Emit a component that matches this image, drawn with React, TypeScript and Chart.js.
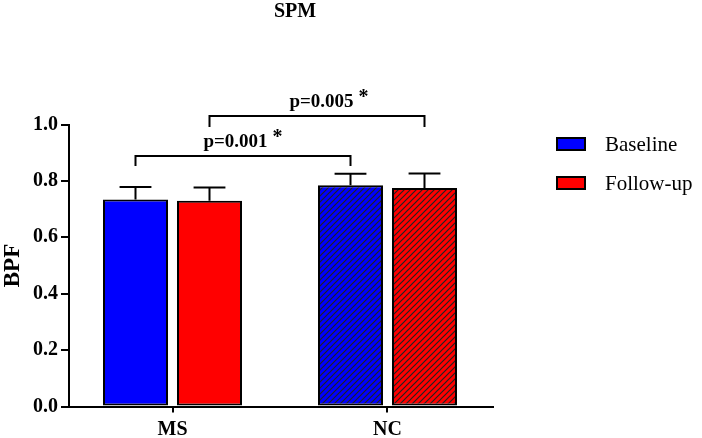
import React, { useEffect, useRef } from 'react';
import { Chart, registerables } from 'chart.js';

Chart.register(...registerables);

// ---------- data ----------
const categories = ['MS', 'NC'];
const seriesLabels = ['Baseline', 'Follow-up'];
const baselineValues = [0.734, 0.785];
const baselineErrors = [0.044, 0.04];
const followUpValues = [0.73, 0.775];
const followUpErrors = [0.047, 0.051];
const hatchedCategories = [false, true];
const yTickValues = [0, 0.2, 0.4, 0.6, 0.8, 1.0];
const chartTitle = 'SPM';
const yAxisTitle = 'BPF';
// significance brackets: both ends on the same series, from category 0 to category 1
const bracketLabels = ['p=0.001', 'p=0.005'];
const bracketSeries = [0, 1];
const bracketLevels = [0.888, 1.03];
const bracketDrops = [0.853, 0.991];

// ---------- styles ----------
const SERIES_COLORS = ['#0000FF', '#FF0000'];
const SERIF = '"Liberation Serif", "Times New Roman", serif';
const BRACKET_LABEL_SHIFT = [0, 12];

const allValues = [baselineValues, followUpValues];
const allErrors = [baselineErrors, followUpErrors];

function makeHatch(color: string): CanvasPattern | string {
  const c = document.createElement('canvas');
  const s = 6;
  c.width = s;
  c.height = s;
  const g = c.getContext('2d');
  if (!g) return color;
  g.fillStyle = color;
  g.fillRect(0, 0, s, s);
  g.strokeStyle = '#222';
  g.lineWidth = 1.2;
  g.beginPath();
  g.moveTo(-1, s + 1);
  g.lineTo(s + 1, -1);
  g.moveTo(-1, 1);
  g.lineTo(1, -1);
  g.moveTo(s - 1, s + 1);
  g.lineTo(s + 1, s - 1);
  g.stroke();
  return g.createPattern(c, 'repeat') || color;
}

const overlayPlugin = {
  id: 'overlay',
  afterDatasetsDraw(chart: any) {
    const ctx: CanvasRenderingContext2D = chart.ctx;
    const yScale = chart.scales.y;
    ctx.save();
    ctx.strokeStyle = '#000';
    ctx.lineWidth = 2;
    // error bars (upper half)
    allErrors.forEach((errs, di) => {
      const meta = chart.getDatasetMeta(di);
      meta.data.forEach((bar: any, i: number) => {
        const v = allValues[di][i];
        const base = yScale.getPixelForValue(v);
        const top = yScale.getPixelForValue(v + errs[i]);
        const half = bar.width * 0.245;
        ctx.beginPath();
        ctx.moveTo(bar.x, base);
        ctx.lineTo(bar.x, top);
        ctx.moveTo(bar.x - half, top);
        ctx.lineTo(bar.x + half, top);
        ctx.stroke();
      });
    });
    ctx.restore();
  },
  afterDraw(chart: any) {
    const ctx: CanvasRenderingContext2D = chart.ctx;
    const yScale = chart.scales.y;
    ctx.save();
    ctx.strokeStyle = '#000';
    ctx.fillStyle = '#000';
    ctx.lineWidth = 2;
    ctx.lineJoin = 'miter';
    // brackets
    bracketLabels.forEach((label, k) => {
      const meta = chart.getDatasetMeta(bracketSeries[k]);
      const x1 = meta.data[0].x;
      const x2 = meta.data[1].x;
      const yl = yScale.getPixelForValue(bracketLevels[k]);
      const yd = yScale.getPixelForValue(bracketDrops[k]);
      ctx.beginPath();
      ctx.moveTo(x1, yd);
      ctx.lineTo(x1, yl);
      ctx.lineTo(x2, yl);
      ctx.lineTo(x2, yd);
      ctx.stroke();
      ctx.font = `bold 19px ${SERIF}`;
      const wText = ctx.measureText(label).width;
      ctx.font = `bold 20px ${SERIF}`;
      const wStar = ctx.measureText('*').width;
      const gap = 5;
      const total = wText + gap + wStar;
      const start = (x1 + x2) / 2 - total / 2 + BRACKET_LABEL_SHIFT[k];
      const baseline = yl - 9;
      ctx.textAlign = 'left';
      ctx.textBaseline = 'alphabetic';
      ctx.font = `bold 19px ${SERIF}`;
      ctx.fillText(label, start, baseline);
      ctx.font = `bold 20px ${SERIF}`;
      ctx.fillText('*', start + wText + gap, baseline - 4);
    });
    // title
    ctx.font = `bold 20px ${SERIF}`;
    ctx.textAlign = 'center';
    ctx.textBaseline = 'middle';
    ctx.fillText(chartTitle, 295, 12);
    // legend
    const ds = chart.data.datasets;
    ds.forEach((d: any, i: number) => {
      const cy = 144 + i * 39;
      ctx.fillStyle = SERIES_COLORS[i];
      ctx.fillRect(557, cy - 6, 28, 12);
      ctx.strokeStyle = '#000';
      ctx.lineWidth = 2;
      ctx.strokeRect(557, cy - 6, 28, 12);
      ctx.fillStyle = '#000';
      ctx.font = `21px ${SERIF}`;
      ctx.textAlign = 'left';
      ctx.textBaseline = 'middle';
      ctx.fillText(d.label, 605, cy + 1);
    });
    ctx.restore();
  },
};

export default function App() {
  const canvasRef = useRef<HTMLCanvasElement | null>(null);

  useEffect(() => {
    const canvas = canvasRef.current;
    if (!canvas) return;
    const datasets = allValues.map((vals, di) => ({
      label: seriesLabels[di],
      data: vals.map((v, i) => ({ x: i, y: v })),
      backgroundColor: categories.map((_, i) =>
        hatchedCategories[i] ? makeHatch(SERIES_COLORS[di]) : SERIES_COLORS[di]
      ),
      borderColor: '#000',
      borderWidth: 2,
      borderSkipped: false,
      categoryPercentage: 148 / 215,
      barPercentage: 65 / 74,
    }));

    const chart = new Chart(canvas, {
      type: 'bar',
      data: { datasets: datasets as any },
      plugins: [overlayPlugin as any],
      options: {
        animation: false,
        responsive: false,
        layout: { padding: { top: 124.5, right: 209, bottom: 0, left: 0 } },
        plugins: {
          legend: { display: false },
          title: { display: false },
          tooltip: { enabled: false },
        },
        scales: {
          x: {
            type: 'linear',
            min: -0.4814,
            max: 1.4907,
            offset: false,
            grid: {
              offset: false,
              drawOnChartArea: false,
              drawTicks: true,
              tickLength: 6,
              color: '#000',
              lineWidth: 2,
            },
            border: { display: true, color: '#000', width: 2 },
            ticks: {
              autoSkip: false,
              maxRotation: 0,
              padding: 5,
              color: '#000',
              font: { family: SERIF, size: 20, weight: 'bold' },
              callback: (v: any) => categories[v as number] ?? '',
            },
            afterBuildTicks: (s: any) => {
              s.ticks = categories.map((_, i) => ({ value: i }));
            },
            afterFit: (s: any) => {
              s.height = 31.5;
            },
          } as any,
          y: {
            type: 'linear',
            min: 0,
            max: 1,
            grid: {
              drawOnChartArea: false,
              drawTicks: true,
              tickLength: 8,
              color: '#000',
              lineWidth: 2,
            },
            border: { display: true, color: '#000', width: 2 },
            ticks: {
              padding: 3,
              color: '#000',
              font: { family: SERIF, size: 20, weight: 'bold' },
              callback: (v: any) => Number(v).toFixed(1),
            },
            afterBuildTicks: (s: any) => {
              s.ticks = yTickValues.map((v) => ({ value: v }));
            },
            title: {
              display: true,
              text: yAxisTitle,
              color: '#000',
              padding: { top: 0, bottom: 0 },
              font: { family: SERIF, size: 23, weight: 'bold', lineHeight: 1.1 },
            },
            afterFit: (s: any) => {
              s.width = 69;
            },
          } as any,
        },
      },
    });
    return () => chart.destroy();
  }, []);

  return (
    <div style={{ position: 'absolute', left: 0, top: 0, width: 702, height: 438, background: '#fff' }}>
      <canvas ref={canvasRef} width={702} height={438} style={{ display: 'block' }} />
    </div>
  );
}
